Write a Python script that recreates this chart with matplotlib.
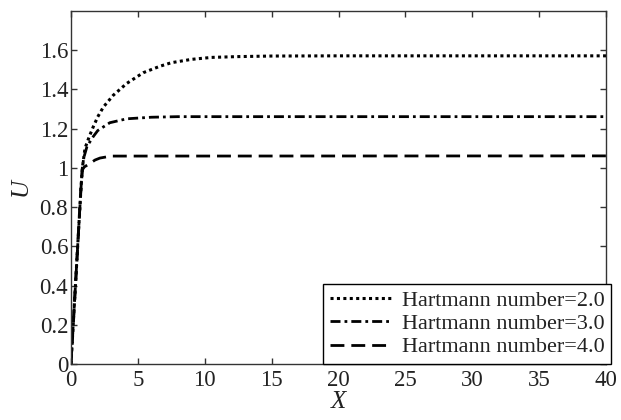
import matplotlib
matplotlib.use("Agg")
import matplotlib.pyplot as plt
from matplotlib.ticker import FuncFormatter

# ===== Date =====
x_ha2 = [0, 0.25, 0.5, 0.75, 0.85, 1.05, 1.37, 1.67, 2.0, 2.42, 3.16, 4.16, 5.4, 6.65, 7.5, 9.0, 10.5, 12.4, 15.0, 20.0, 40.0]
u_ha2 = [0, 0.30, 0.60, 0.90, 1.00, 1.10, 1.16, 1.21, 1.26, 1.31, 1.37, 1.43, 1.485, 1.518, 1.536, 1.553, 1.563, 1.567, 1.570, 1.571, 1.571]

x_ha3 = [0, 0.25, 0.5, 0.75, 0.85, 0.95, 1.2, 1.67, 2.0, 2.9, 4.16, 6.0, 8.0, 40.0]
u_ha3 = [0, 0.30, 0.60, 0.90, 1.00, 1.05, 1.11, 1.16, 1.19, 1.23, 1.25, 1.258, 1.261, 1.261]

x_ha4 = [0, 0.25, 0.5, 0.75, 0.85, 1.0, 1.37, 1.8, 2.17, 3.0, 40.0]
u_ha4 = [0, 0.30, 0.60, 0.90, 0.99, 1.005, 1.02, 1.04, 1.05, 1.06, 1.061]

labels = ["Hartmann number=2.0", "Hartmann number=3.0", "Hartmann number=4.0"]
x_ticks = [0, 5, 10, 15, 20, 25, 30, 35, 40]
y_ticks = [0, 0.2, 0.4, 0.6, 0.8, 1.0, 1.2, 1.4, 1.6]

plt.rcParams['font.family'] = ['Liberation Serif', 'DejaVu Serif']
txt_col = '#222222'
ax_col = '#333333'

fig = plt.figure(figsize=(6.21, 4.2), dpi=100)
ax = fig.add_axes([0.1143, 0.1333, 0.976 - 0.1143, 0.974 - 0.1333])

ax.plot(x_ha2, u_ha2, color='black', lw=2.2, linestyle=(0, (1, 1.1)),
        dash_capstyle='butt', label=labels[0])
ax.plot(x_ha3, u_ha3, color='black', lw=2.0, linestyle=(0, (3.6, 1.45, 1, 1.45)),
        dash_capstyle='butt', label=labels[1])
ax.plot(x_ha4, u_ha4, color='black', lw=2.0, linestyle=(0, (5, 2.5)),
        dash_capstyle='butt', label=labels[2])

ax.set_xlim(0, 40)
ax.set_ylim(0, 1.8)
ax.set_xticks(x_ticks)
ax.set_yticks(y_ticks)
ax.yaxis.set_major_formatter(FuncFormatter(lambda v, p: f"{v:g}"))
ax.tick_params(direction='in', top=True, right=True, length=4, width=1.0,
               color=ax_col, labelsize=16.5, labelcolor=txt_col)
ax.tick_params(axis='x', pad=4)
ax.tick_params(axis='y', pad=2)
for s in ax.spines.values():
    s.set_color(ax_col)
    s.set_linewidth(1.0)

ax.set_xlabel("X", fontsize=18, style='italic', color=txt_col, labelpad=0)
ax.set_ylabel("U", fontsize=18, style='italic', color=txt_col, labelpad=6)

leg = ax.legend(loc='lower right', bbox_to_anchor=(1.01, 0), borderaxespad=0,
                fontsize=16, handlelength=2.8, handletextpad=0.45,
                labelspacing=0.12, borderpad=0.3, fancybox=False, framealpha=1)
leg.get_frame().set_edgecolor('black')
leg.get_frame().set_linewidth(1.0)
for t in leg.get_texts():
    t.set_color(txt_col)

fig.savefig("out.png", dpi=100)
